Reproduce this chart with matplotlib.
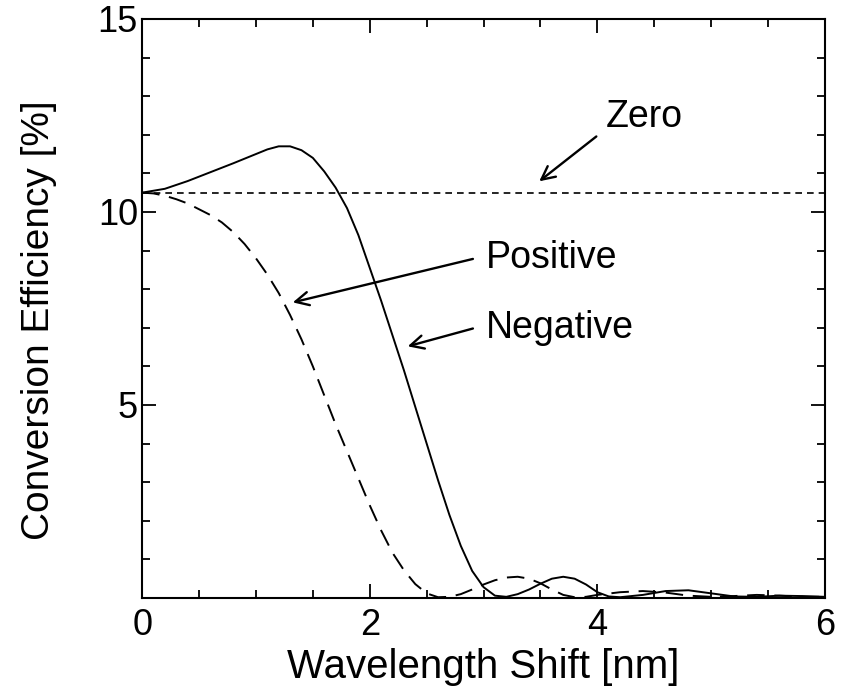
import matplotlib
matplotlib.use("Agg")
import matplotlib.pyplot as plt
from matplotlib.ticker import MultipleLocator, FixedLocator

# Valores (deslocamento em nm, eficiência em %)
x_negativo = [0.0, 0.2, 0.4, 0.6, 0.8, 1.0, 1.1, 1.2, 1.3, 1.4, 1.5, 1.6, 1.7, 1.8, 1.9,
              2.0, 2.1, 2.2, 2.3, 2.4, 2.5, 2.6, 2.7, 2.8, 2.9, 3.0, 3.1, 3.2, 3.3, 3.4,
              3.5, 3.6, 3.7, 3.8, 3.9, 4.0, 4.1, 4.2, 4.4, 4.6, 4.8, 5.0, 5.2, 5.4, 5.6,
              5.8, 6.0]
y_negativo = [10.5, 10.6, 10.8, 11.03, 11.26, 11.5, 11.62, 11.7, 11.7, 11.6, 11.4, 11.05,
              10.63, 10.1, 9.4, 8.55, 7.7, 6.8, 5.9, 4.95, 4.0, 3.05, 2.15, 1.35, 0.7, 0.28,
              0.06, 0.03, 0.1, 0.22, 0.37, 0.5, 0.55, 0.5, 0.35, 0.15, 0.04, 0.02, 0.08,
              0.18, 0.2, 0.12, 0.04, 0.03, 0.06, 0.05, 0.03]

x_positivo = [0.0, 0.1, 0.2, 0.3, 0.4, 0.5, 0.6, 0.7, 0.8, 0.9, 1.0, 1.1, 1.2, 1.3, 1.4,
              1.5, 1.6, 1.7, 1.8, 1.9, 2.0, 2.1, 2.2, 2.3, 2.4, 2.5, 2.6, 2.7, 2.8, 2.9,
              3.0, 3.1, 3.2, 3.3, 3.4, 3.5, 3.6, 3.7, 3.8, 3.9, 4.0, 4.2, 4.4, 4.6, 4.8,
              5.0, 5.2, 5.4, 5.6, 5.8, 6.0]
y_positivo = [10.5, 10.48, 10.42, 10.33, 10.22, 10.07, 9.92, 9.73, 9.48, 9.17, 8.8, 8.38,
              7.9, 7.33, 6.7, 6.0, 5.25, 4.5, 3.8, 3.1, 2.4, 1.75, 1.17, 0.72, 0.36, 0.12,
              0.02, 0.03, 0.1, 0.22, 0.35, 0.46, 0.53, 0.55, 0.5, 0.38, 0.22, 0.08, 0.02,
              0.03, 0.08, 0.15, 0.18, 0.14, 0.06, 0.03, 0.05, 0.08, 0.06, 0.03, 0.03]

x_zero = [0.0, 6.0]
y_zero = [10.5, 10.5]

# Rótulos e setas: (texto, posição do texto, ponta da seta, início da seta)
anotacoes = [
    ("Zero", (4.07, 12.45), (3.47, 10.75), (4.01, 12.0)),
    ("Positive", (3.02, 8.8), (1.30, 7.64), (2.93, 8.8)),
    ("Negative", (3.02, 7.0), (2.31, 6.5), (2.93, 7.0)),
]

plt.rcParams['font.family'] = ['Liberation Sans', 'DejaVu Sans']

fig = plt.figure(figsize=(8.41, 6.91), dpi=100)
ax = fig.add_axes([0.169, 0.1346, 0.812, 0.838])

ax.plot(x_negativo, y_negativo, color='black', linewidth=1.4)
ax.plot(x_positivo, y_positivo, color='black', linewidth=1.4, dashes=(9, 5))
ax.plot(x_zero, y_zero, color='black', linewidth=1.2, dashes=(4, 3))

for texto, pos_texto, ponta, inicio in anotacoes:
    ax.annotate("", xy=ponta, xytext=inicio,
                arrowprops=dict(arrowstyle='->', color='black', lw=1.7,
                                mutation_scale=24))
    ax.text(pos_texto[0], pos_texto[1], texto, fontsize=27, va='center', ha='left')

ax.set_xlim(0, 6)
ax.set_ylim(0, 15)
ax.xaxis.set_major_locator(FixedLocator([0, 2, 4, 6]))
ax.xaxis.set_minor_locator(MultipleLocator(0.5))
ax.yaxis.set_major_locator(FixedLocator([5, 10, 15]))
ax.yaxis.set_minor_locator(MultipleLocator(1))

ax.tick_params(which='both', direction='in', top=True, right=True, width=1.3)
ax.tick_params(which='major', length=10, labelsize=26)
ax.tick_params(axis='x', which='major', pad=7)
ax.tick_params(axis='y', which='major', pad=3)
ax.tick_params(which='minor', length=6)
for lado in ax.spines.values():
    lado.set_linewidth(1.5)

ax.set_xlabel("Wavelength Shift [nm]", fontsize=29, labelpad=4)
ax.set_ylabel("Conversion Efficiency [%]", fontsize=28)
ax.yaxis.set_label_coords(-0.125, 0.48)

fig.savefig("out.png", dpi=100)
